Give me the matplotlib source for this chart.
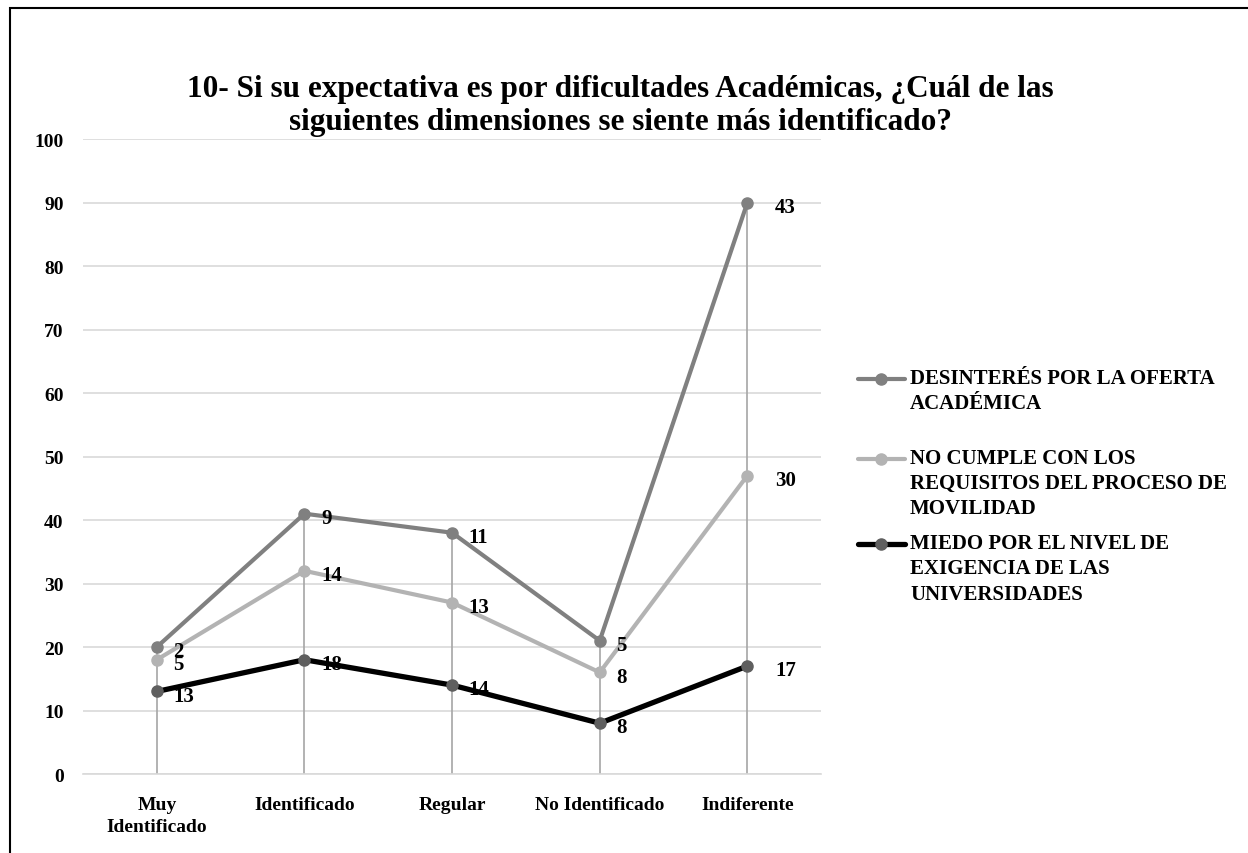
import matplotlib.pyplot as plt
from matplotlib.lines import Line2D
from matplotlib.patches import Rectangle
import numpy as np

plt.rcParams['font.family'] = ['Liberation Serif', 'DejaVu Serif']
plt.rcParams['font.weight'] = 'bold'

# Datos (gráfico de líneas apiladas)
categorias = ["Muy\nIdentificado", "Identificado", "Regular", "No Identificado", "Indiferente"]
series = [
    "MIEDO POR EL NIVEL DE\nEXIGENCIA DE LAS\nUNIVERSIDADES",
    "NO CUMPLE CON LOS\nREQUISITOS DEL PROCESO DE\nMOVILIDAD",
    "DESINTERÉS POR LA OFERTA\nACADÉMICA",
]
miedo = [13, 18, 14, 8, 17]
no_cumple = [5, 14, 13, 8, 30]
desinteres = [2, 9, 11, 5, 43]
valores = [miedo, no_cumple, desinteres]

colores_linea = ["#000000", "#b3b3b3", "#808080"]
colores_marca = ["#5f5f5f", "#b3b3b3", "#808080"]
grosor = [3.8, 3.0, 3.0]

fig = plt.figure(figsize=(12.48, 8.54), dpi=100)
fig.add_artist(Rectangle((0.008, -0.1), 1.1, 1.09, transform=fig.transFigure,
                         fill=False, edgecolor="#000000", linewidth=1.5))
ax = fig.add_axes([0.0665, 0.0925, 0.5915, 0.7435])

x = np.arange(len(categorias))
acumulado = np.cumsum(np.array(valores), axis=0)

# líneas de caída
ax.vlines(x, 0, acumulado[-1], color="#a6a6a6", linewidth=1.2, zorder=1)

for i in range(len(valores)):
    ax.plot(x, acumulado[i], color=colores_linea[i], linewidth=grosor[i],
            marker="o", markersize=8, markerfacecolor=colores_marca[i],
            markeredgecolor=colores_marca[i], zorder=3 + (2 - i), solid_capstyle="round")
    for xi, yi, v in zip(x, acumulado[i], valores[i]):
        dx = 20 if xi == len(x) - 1 else 12
        ax.annotate(str(v), (xi, yi), xytext=(dx, -3), textcoords="offset points",
                    ha="left", va="center", fontsize=15, fontweight="bold", zorder=6)

ax.set_xlim(-0.5, 4.5)
ax.set_ylim(0, 100)
ax.set_yticks(range(0, 101, 10))
ax.set_xticks(x)
ax.set_xticklabels(categorias, fontsize=14, fontweight="bold", linespacing=1.35)
ax.tick_params(axis="y", labelsize=14, length=0, pad=14)
ax.tick_params(axis="x", length=0, pad=16)
ax.grid(axis="y", color="#d9d9d9", linewidth=1.2)
ax.set_axisbelow(True)
for s in ["top", "right", "left"]:
    ax.spines[s].set_visible(False)
ax.spines["bottom"].set_color("#d9d9d9")
ax.spines["bottom"].set_linewidth(1.2)

fig.text(0.497, 1 - 106 / 854, "10- Si su expectativa es por dificultades Académicas, ¿Cuál de las\n"
         "siguientes dimensiones se siente más identificado?",
         ha="center", va="center", fontsize=22.5, fontweight="bold", linespacing=1.2)

# leyenda
orden = [2, 1, 0]
y_ley = [380, 460, 545]
for j, yl in zip(orden, y_ley):
    yf = 1 - yl / 854
    fig.add_artist(Line2D([858 / 1248, 905 / 1248], [yf, yf], transform=fig.transFigure,
                          color=colores_linea[j], linewidth=grosor[j],
                          solid_capstyle="round"))
    fig.add_artist(Line2D([881 / 1248], [yf], transform=fig.transFigure, marker="o",
                          markersize=8, color=colores_marca[j]))
    fig.text(910 / 1248, yf + 11 / 854, series[j], ha="left", va="top", fontsize=15,
             fontweight="bold", linespacing=1.35)

fig.savefig("out.png", dpi=100)
